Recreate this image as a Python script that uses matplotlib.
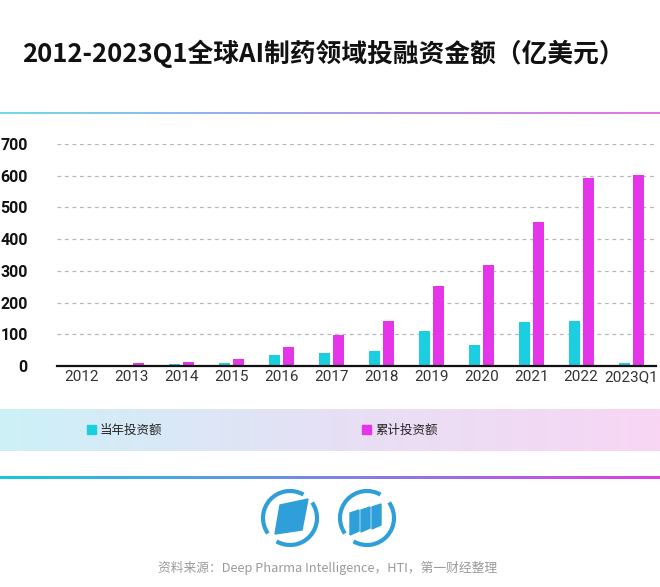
import numpy as np
import matplotlib.pyplot as plt
from matplotlib.patches import Arc, Polygon, Rectangle
from matplotlib.colors import LinearSegmentedColormap

plt.rcParams['font.family'] = ['Noto Sans CJK SC', 'DejaVu Sans']

# data (亿美元)
years = ['2012', '2013', '2014', '2015', '2016', '2017', '2018',
         '2019', '2020', '2021', '2022', '2023Q1']
annual = [3, 4, 5, 9, 34, 42, 46, 109, 67, 138, 142, 8]
cumulative = [4, 9, 14, 21, 59, 97, 142, 251, 317, 453, 594, 603]
yticks = [0, 100, 200, 300, 400, 500, 600, 700]

series_names = ['当年投资额', '累计投资额']
colors = ['#1ccfe0', '#e535e8']

fig = plt.figure(figsize=(6.6, 5.87), dpi=100)

# background overlay in pixel coordinates for decorations
bg = fig.add_axes([0, 0, 1, 1], zorder=0)
bg.axis('off')

grad = np.linspace(0, 1, 256).reshape(1, -1)
line_cmap = LinearSegmentedColormap.from_list('ln', ['#6fdbe8', '#a99ce8', '#e577e0'])
band_cmap = LinearSegmentedColormap.from_list('bd', ['#cdf1f8', '#e6e0f5', '#f8d6f4'])
strong_cmap = LinearSegmentedColormap.from_list('st', ['#18c8d8', '#7a86e0', '#e03ee0'])

bg.imshow(grad, cmap=line_cmap, aspect='auto', extent=(0, 660, 114, 112))
bg.imshow(grad, cmap=band_cmap, aspect='auto', extent=(0, 660, 451, 409))
bg.imshow(grad, cmap=strong_cmap, aspect='auto', extent=(0, 660, 479, 476))
bg.set_xlim(0, 660)
bg.set_ylim(587, 0)

# legend inside the band
for (lx, name, c) in [(87, series_names[0], colors[0]), (362, series_names[1], colors[1])]:
    bg.add_patch(Rectangle((lx, 425), 9, 9, color=c))
    bg.text(lx + 13, 430, name, fontsize=9, color='#222222', va='center', ha='left')

# logos (y axis is flipped here, so angles are mirrored)
blue = '#2e9fd8'
for cx in (290, 367):
    bg.add_patch(Arc((cx, 518), 54, 54, theta1=145, theta2=300, color=blue, lw=3))
    bg.add_patch(Arc((cx, 518), 54, 54, theta1=-35, theta2=120, color=blue, lw=3))
bg.add_patch(Polygon([[280, 505], [308, 499], [302, 530], [275, 534]], color=blue))
for i in range(3):
    x0 = 350 + i * 11
    bg.add_patch(Polygon([[x0, 513 - i * 3], [x0 + 9, 510 - i * 3],
                          [x0 + 9, 531 - i * 3], [x0, 535 - i * 3]], color=blue))

fig.text(0.49, 0.908, '2012-2023Q1全球AI制药领域投融资金额（亿美元）',
         fontsize=18.5, fontweight='bold', ha='center', va='center', color='#111111')
fig.text(0.497, 0.033, '资料来源：Deep Pharma Intelligence，HTI，第一财经整理',
         fontsize=9.2, ha='center', va='center', color='#9a9a9a')

ax = fig.add_axes([0.0864, 0.3765, 0.9076, 0.3782], zorder=1)
ax.patch.set_alpha(0)
x = np.arange(len(years))
ax.bar(x - 0.14, annual, width=0.22, color=colors[0], zorder=3)
ax.bar(x + 0.14, cumulative, width=0.22, color=colors[1], zorder=3)

ax.set_xlim(-0.5, len(years) - 0.5)
ax.set_ylim(0, 700)
ax.set_yticks(yticks)
ax.set_yticklabels([str(v) for v in yticks], family='Roboto', fontweight='bold',
                   fontsize=11.5, color='#111111')
ax.set_xticks(x)
ax.set_xticklabels(years, family='Roboto', fontsize=11, color='#333333')
ax.tick_params(axis='both', length=0)
ax.tick_params(axis='y', pad=21)
ax.tick_params(axis='x', pad=3)

for v in yticks[1:]:
    ax.axhline(v, color='#b8b8b8', lw=0.9, ls=(0, (3, 3)), zorder=1)
for s in ['top', 'right', 'left']:
    ax.spines[s].set_visible(False)
ax.spines['bottom'].set_color('#111111')
ax.spines['bottom'].set_linewidth(1.6)
ax.spines['bottom'].set_zorder(4)

fig.savefig('out.png', dpi=100)
